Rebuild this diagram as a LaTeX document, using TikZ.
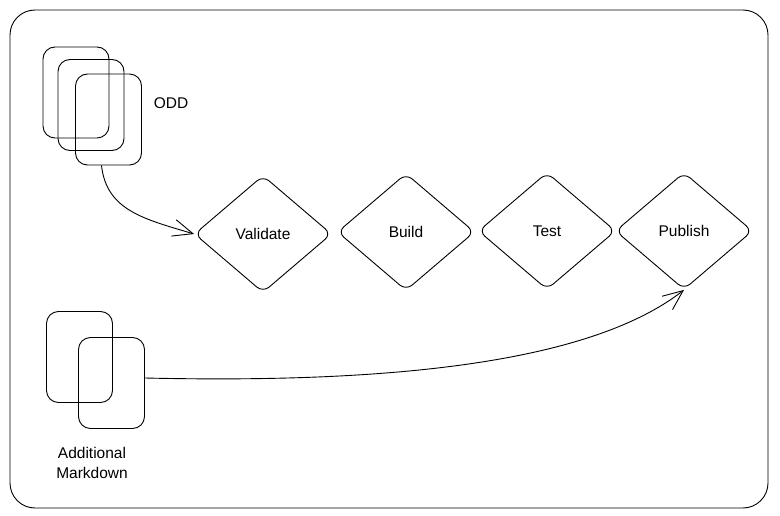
\documentclass[tikz,border=0pt]{standalone}
\usepackage{fontspec}
\setmainfont{Liberation Sans}
\usetikzlibrary{arrows.meta,shapes.geometric}

\begin{document}
\begin{tikzpicture}[x=1pt,y=-1pt,line width=0.9pt,
    doc/.style={draw, rounded corners=12pt, minimum width=66pt, minimum height=91pt, inner sep=0pt},
    stage/.style={draw, diamond, rounded corners=8pt, minimum width=137pt, minimum height=117pt, inner sep=0pt, font=\fontsize{15.5}{18}\selectfont},
    doclabel/.style={font=\fontsize{15.5}{20}\selectfont, align=center},
    flow/.style={-{Straight Barb[length=20pt,width=17pt]}}]
            \useasboundingbox (0,0) rectangle (780,516);

            % Outer frame
            \draw[rounded corners=25pt] (10,10) rectangle (768,508);

            % ODD documents
            \node[doc] (odd1) at (76,92.5) {};
            \node[doc] (odd2) at (91,105) {};
            \node[doc] (odd3) at (108.5,119.5) {};
            \node[doclabel] (oddlabel) at (171,103) {ODD};

            % Markdown documents
            \node[doc] (md1) at (79.5,357) {};
            \node[doc] (md2) at (111.5,383) {};
            \node[doclabel] (mdlabel) at (92,463) {Additional\\Markdown};

            % Pipeline stages
            \node[stage] (validate) at (263,234) {Validate};
            \node[stage] (build) at (406,232) {Build};
            \node[stage] (test) at (547,231) {Test};
            \node[stage] (publish) at (684,231) {Publish};

            % Connectors
            \draw[flow] ([xshift=-7pt]odd3.south) .. controls +(5,45) and +(-50,-15) .. (validate.west);
            \draw[flow] ([yshift=5pt]md2.east) .. controls +(260,6) and +(-90,70) .. (publish.south);
        \end{tikzpicture}
\end{document}
